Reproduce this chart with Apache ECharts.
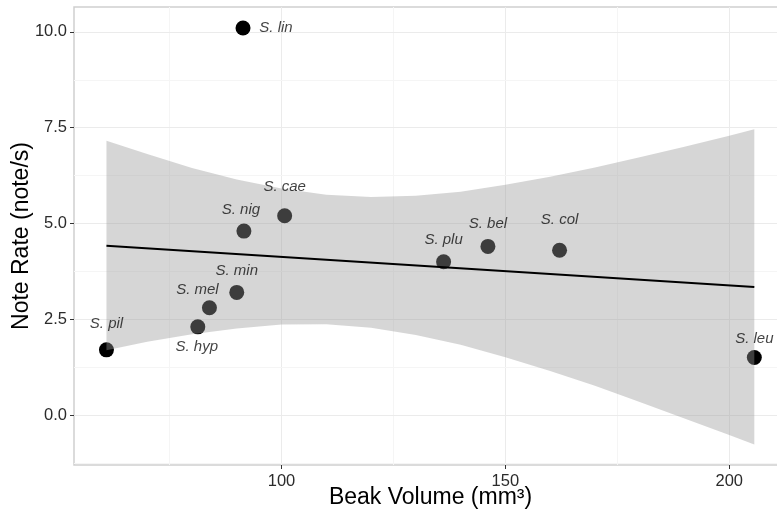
<!DOCTYPE html>
<html>
<head>
<meta charset="utf-8">
<script src="https://cdn.jsdelivr.net/npm/echarts@6/dist/echarts.min.js"></script>
<style>
  html, body { margin: 0; padding: 0; background: #fff; }
  #chart { width: 777px; height: 512px; }
</style>
</head>
<body>
<div id="chart"></div>
<script>
// species data
var species = ["S. pil", "S. hyp", "S. mel", "S. min", "S. lin", "S. nig", "S. cae", "S. plu", "S. bel", "S. col", "S. leu"];
var beakVolume = [60.9, 81.3, 83.9, 90.0, 91.4, 91.6, 100.7, 136.2, 146.1, 162.1, 205.6];
var noteRate = [1.7, 2.3, 2.8, 3.2, 10.1, 4.8, 5.2, 4.0, 4.4, 4.3, 1.5];

// fitted line ends and confidence band
var fitX = [60.9, 205.6];
var fitY = [4.42, 3.34];
var bandX = [60.9, 70, 80, 90, 100, 110, 120, 130, 140, 150, 160, 170, 180, 190, 200, 205.6];
var bandLow = [1.69, 1.91, 2.11, 2.26, 2.36, 2.37, 2.28, 2.09, 1.83, 1.51, 1.15, 0.76, 0.34, -0.09, -0.52, -0.77];
var bandHigh = [7.16, 6.81, 6.45, 6.15, 5.91, 5.75, 5.69, 5.72, 5.83, 6.01, 6.22, 6.46, 6.73, 7.00, 7.29, 7.46];

// ticks
var xTicks = [100, 150, 200];
var xMinor = [75, 125, 175];
var yTicks = [0, 2.5, 5, 7.5, 10];
var yMinor = [-1.25, 1.25, 3.75, 6.25, 8.75];

// where each label sits relative to its point (px)
var labelOffset = {
  "S. pil": [0, -26], "S. hyp": [-1, 20], "S. mel": [-12, -18], "S. min": [0, -22],
  "S. lin": [33, 0], "S. nig": [-3, -21], "S. cae": [0, -29], "S. plu": [0, -22],
  "S. bel": [0, -23], "S. col": [0, -30], "S. leu": [0, -19]
};

var font = "'Liberation Sans', Arial, Helvetica, sans-serif";
var chart = echarts.init(document.getElementById("chart"));

var points = species.map(function (name, i) {
  return { name: name, value: [beakVolume[i], noteRate[i]] };
});
var labels = species.map(function (name, i) {
  return {
    name: name,
    value: [beakVolume[i], noteRate[i]],
    label: { offset: labelOffset[name] }
  };
});

function gl(key, color) {
  return function (v) {
    var d = { lineStyle: { color: color, width: 1, type: "solid" } };
    d[key] = v;
    return d;
  };
}
var gridLines = []
  .concat(xTicks.map(gl("xAxis", "#ebebeb")))
  .concat(xMinor.map(gl("xAxis", "#f5f5f5")))
  .concat(yTicks.map(gl("yAxis", "#ebebeb")))
  .concat(yMinor.map(gl("yAxis", "#f5f5f5")));

var option = {
  animation: false,
  backgroundColor: "#ffffff",
  grid: {
    left: 74, top: 7, right: -10, bottom: 47,
    outerBoundsMode: "none", containLabel: false,
    show: true, borderColor: "#cfcfcf", borderWidth: 1.5, backgroundColor: "transparent"
  },
  xAxis: {
    type: "value", min: 53.65, max: 212.9,
    name: "Beak Volume (mm³)", nameLocation: "middle", nameGap: 21, nameMoveOverlap: false,
    nameTextStyle: { fontFamily: font, fontSize: 23, color: "#000" },
    axisLine: { show: false, onZero: false },
    axisTick: { show: true, length: 4, lineStyle: { color: "#333" }, customValues: xTicks },
    axisLabel: { customValues: xTicks, fontFamily: font, fontSize: 16.5, color: "#2b2b2b", margin: 8 },
    splitLine: { show: false }
  },
  yAxis: {
    type: "value", min: -1.306, max: 10.65,
    name: "Note Rate (note/s)", nameLocation: "middle", nameGap: 41, nameMoveOverlap: false,
    nameTextStyle: { fontFamily: font, fontSize: 23, color: "#000" },
    axisLine: { show: false, onZero: false },
    axisTick: { show: true, length: 4, lineStyle: { color: "#333" }, customValues: yTicks },
    axisLabel: {
      customValues: yTicks, fontFamily: font, fontSize: 16.5, color: "#2b2b2b", margin: 7,
      formatter: function (v) { return v.toFixed(1); }
    },
    splitLine: { show: false }
  },
  series: [
    {
      type: "scatter", data: [], z: 1, silent: true,
      markLine: { z: 1, silent: true, symbol: "none", label: { show: false }, data: gridLines, animation: false }
    },
    {
      type: "scatter", data: points, z: 2, symbolSize: 15,
      itemStyle: { color: "#000", opacity: 1 }
    },
    {
      type: "custom", z: 3, silent: true,
      data: [0],
      renderItem: function (params, api) {
        var pts = [];
        for (var i = 0; i < bandX.length; i++) pts.push(api.coord([bandX[i], bandHigh[i]]));
        for (var j = bandX.length - 1; j >= 0; j--) pts.push(api.coord([bandX[j], bandLow[j]]));
        return { type: "polygon", shape: { points: pts }, style: { fill: "rgba(153,153,153,0.4)" } };
      }
    },
    {
      type: "line", z: 4, showSymbol: false, silent: true,
      data: fitX.map(function (x, i) { return [x, fitY[i]]; }),
      lineStyle: { color: "#000", width: 2 }
    },
    {
      type: "scatter", data: labels, z: 5, symbolSize: 1, silent: true,
      itemStyle: { color: "rgba(0,0,0,0)" },
      label: {
        show: true, position: "inside", formatter: "{b}",
        fontFamily: font, fontStyle: "italic", fontSize: 15, color: "#111",
        align: "center", verticalAlign: "middle"
      }
    }
  ]
};
chart.setOption(option);
</script>
</body>
</html>
